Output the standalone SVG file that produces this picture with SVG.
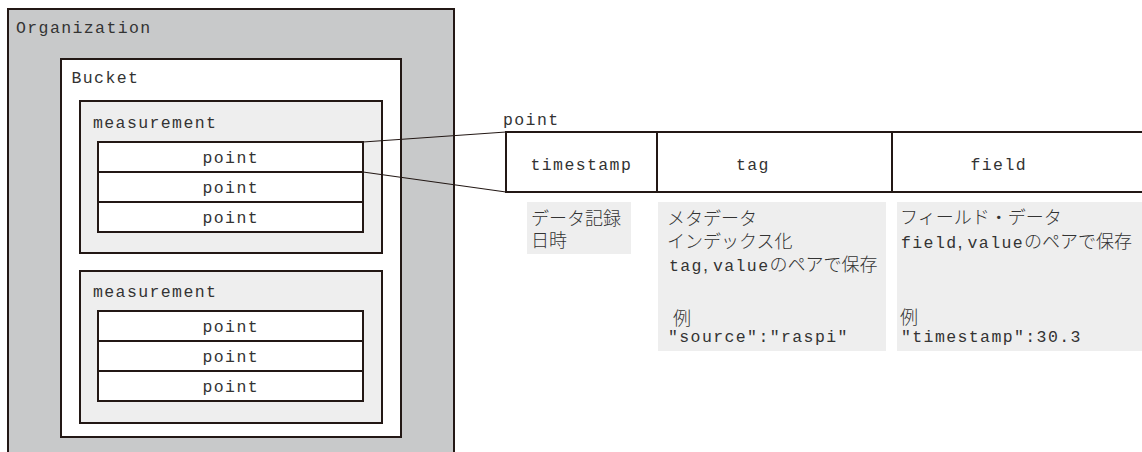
<svg xmlns="http://www.w3.org/2000/svg" width="1142" height="452" viewBox="0 0 1142 452">
<style>
.box{stroke:#231815;stroke-width:2}
.org{fill:#c8c9ca}
.bucket{fill:#ffffff}
.meas{fill:#eeeeee}
.row{fill:#ffffff}
.desc{fill:#eeeeee;stroke:none}
.mono{font-family:"Liberation Mono","Noto Sans CJK JP",monospace;font-size:16.5px;letter-spacing:1.4px;fill:#333333}
.jp{font-family:"Noto Sans CJK JP","Noto Sans",sans-serif;font-size:18px;font-weight:300;letter-spacing:0;fill:#333333}
.sep{font-family:"Liberation Sans",sans-serif;letter-spacing:0}
.conn{stroke:#231815;stroke-width:1.2;fill:none}
</style>
<g id="organization">
<rect class="box org" x="8" y="9" width="446" height="460"/>
<text class="mono" x="16" y="33">Organization</text>
</g>
<g id="bucket">
<rect class="box bucket" x="61" y="59" width="340" height="378"/>
<text class="mono" x="71.5" y="83">Bucket</text>
</g>
<g id="measurement1">
<rect class="box meas" x="80" y="101" width="302" height="152"/>
<text class="mono" x="93" y="128">measurement</text>
</g>
<g id="m1-point1">
<rect class="box row" x="98" y="142" width="265" height="30"/>
<text class="mono" x="202.5" y="163">point</text>
</g>
<g id="m1-point2">
<rect class="box row" x="98" y="172" width="265" height="30"/>
<text class="mono" x="202.5" y="193">point</text>
</g>
<g id="m1-point3">
<rect class="box row" x="98" y="202" width="265" height="30"/>
<text class="mono" x="202.5" y="223">point</text>
</g>
<g id="measurement2">
<rect class="box meas" x="80" y="271" width="302" height="152"/>
<text class="mono" x="93" y="297">measurement</text>
</g>
<g id="m2-point1">
<rect class="box row" x="98" y="311" width="265" height="30"/>
<text class="mono" x="202.5" y="332">point</text>
</g>
<g id="m2-point2">
<rect class="box row" x="98" y="341" width="265" height="30"/>
<text class="mono" x="202.5" y="362">point</text>
</g>
<g id="m2-point3">
<rect class="box row" x="98" y="371" width="265" height="30"/>
<text class="mono" x="202.5" y="392">point</text>
</g>
<g id="connectors">
<line class="conn" x1="363" y1="142" x2="506" y2="132"/>
<line class="conn" x1="363" y1="172" x2="506" y2="192"/>
</g>
<g id="point-detail">
<text class="mono" x="503" y="125">point</text>
<rect class="box" x="506" y="132" width="650" height="60" fill="#ffffff"/>
<line class="box" x1="657" y1="132" x2="657" y2="192"/>
<line class="box" x1="892" y1="132" x2="892" y2="192"/>
</g>
<g id="timestamp">
<text class="mono" x="530.5" y="170">timestamp</text>
</g>
<g id="tag">
<text class="mono" x="736" y="170">tag</text>
</g>
<g id="field">
<text class="mono" x="970.5" y="170">field</text>
</g>
<g id="timestamp-desc">
<rect class="desc" x="527" y="202" width="104" height="52"/>
<text class="jp" x="531" y="225">データ記録<tspan x="531" dy="22">日時</tspan></text>
</g>
<g id="tag-desc">
<rect class="desc" x="658" y="202" width="228" height="149"/>
<text class="jp" x="667" y="225">メタデータ<tspan x="667" dy="23">インデックス化</tspan><tspan class="mono" x="669" dy="23">tag</tspan><tspan class="sep">, </tspan><tspan class="mono">value</tspan><tspan>のペアで保存</tspan><tspan x="673" dy="54">例</tspan><tspan class="mono" x="668" dy="17">"source":"raspi"</tspan></text>
</g>
<g id="field-desc">
<rect class="desc" x="897" y="202" width="250" height="149"/>
<text class="jp" x="900" y="224">フィールド・データ<tspan class="mono" x="901" dy="24">field</tspan><tspan class="sep">, </tspan><tspan class="mono">value</tspan><tspan>のペアで保存</tspan><tspan x="900" dy="76">例</tspan><tspan class="mono" x="901" dy="18">"timestamp":30.3</tspan></text>
</g>
</svg>
